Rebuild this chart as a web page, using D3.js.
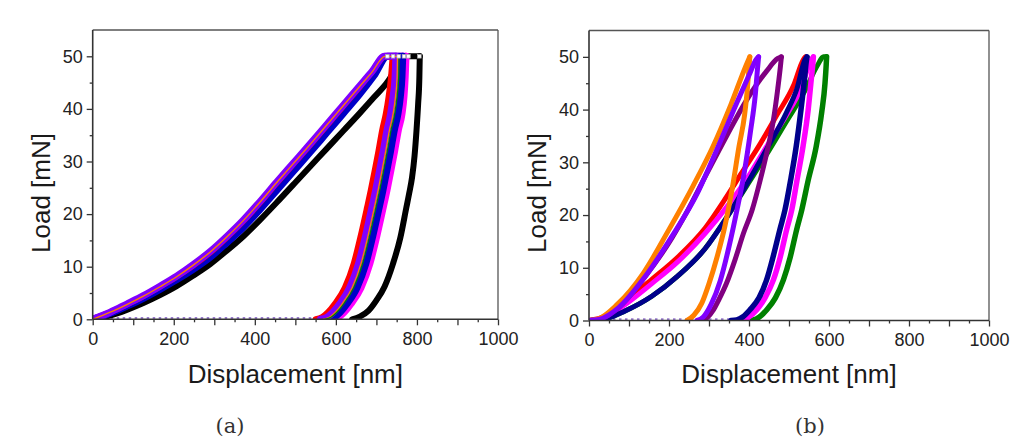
<!DOCTYPE html>
<html><head><meta charset="utf-8">
<script src="https://cdn.jsdelivr.net/npm/d3@7"></script>
<style>body{margin:0;background:#fff;} svg{display:block;}</style>
</head><body><svg id="c" width="1030" height="447"></svg>
<script>
// ---------- shared axis values ----------
const xDomain = [0, 1000];
const yDomain = [0, 55];
const xMajorTicks = [0, 100, 200, 300, 400, 500, 600, 700, 800, 900, 1000];
const xMinorTicks = [50, 150, 250, 350, 450, 550, 650, 750, 850, 950];
const xLabelTicks = [0, 200, 400, 600, 800, 1000];
const yMajorTicks = [0, 10, 20, 30, 40, 50];
const yMinorTicks = [5, 15, 25, 35, 45];
const xTitle = "Displacement [nm]";
const yTitle = "Load [mN]";
const captions = ["(a)", "(b)"];

// ---------- panel (a) curves: [displacement nm, load mN] ----------
// loading (+ hold at 50 mN) and unloading (listed from the bottom up)
const aBlackLoad = [[0,0],[42,0.7],[84,1.8],[125,3.1],[166,4.6],[207,6.3],[248,8.3],[290,10.5],[330,13.0],[372,15.8],[413,18.9],[454,22.2],[495,25.6],[536,29.0],[577,32.4],[618,35.8],[659,39.2],[694,42.2],[729,45.3],[752,48.2],[775,50],[807,50]];
const aBlackUnload = [[640,0],[659,0.5],[680,1.6],[700,3.6],[720,6.2],[741,10.6],[759,15.5],[774,21.3],[781,24],[788,27],[794,31],[799,36],[803,41],[806,46],[807,50]];
const aMagentaLoad = [[0,0],[42,1.2],[84,2.6],[125,4.2],[166,6.0],[207,7.9],[248,10.0],[290,12.5],[330,15.3],[372,18.5],[413,22.0],[454,25.7],[495,29.3],[536,32.9],[577,36.6],[618,40.3],[659,44.0],[690,46.9],[722,50],[773,50]];
const aMagentaUnload = [[590,0],[606,0.4],[620,1.3],[638,3],[662,6],[684,10.6],[701,15.8],[717,21.3],[726,24.5],[735,28],[745,32],[754,35.9],[763,39],[768,42.3],[771,46],[773,50]];
const aBlueLoad = [[0,0],[42,1.1],[84,2.5],[125,4.0],[166,5.7],[207,7.5],[248,9.5],[290,11.8],[330,14.5],[372,17.5],[413,20.9],[454,24.5],[495,28.1],[536,31.7],[577,35.4],[618,39.1],[659,42.8],[694,46.3],[728,50],[765,50]];
const aBlueUnload = [[580,0],[596,0.4],[610,1.3],[628,3],[652,6],[674,10.6],[691,15.8],[707,21.3],[716,24.5],[725,28],[735,32],[744,35.9],[753,39],[759,42.3],[763,46],[765,50]];
const aRedLoad = [[0,0],[42,1.3],[84,2.8],[125,4.4],[166,6.2],[207,8.1],[248,10.2],[290,12.7],[330,15.5],[372,18.7],[413,22.2],[454,25.9],[495,29.5],[536,33.1],[577,36.8],[618,40.5],[659,44.2],[690,47.1],[722,50],[740,50]];
const aRedUnload = [[550,0],[566,0.4],[580,1.3],[598,3],[622,6],[644,10.6],[661,15.8],[677,21.3],[686,24.5],[695,28],[705,32],[714,35.9],[723,39],[730,42.3],[736,46],[740,50]];
const aVioletLoad = [[0,0],[42,1.3],[84,2.9],[125,4.5],[166,6.3],[207,8.2],[248,10.4],[290,12.9],[330,15.7],[372,18.9],[413,22.4],[454,26.1],[495,29.7],[536,33.3],[577,37.0],[618,40.7],[659,44.4],[690,47.2],[720,50],[748,50]];
const aVioletUnload = [[562,0],[578,0.4],[592,1.3],[610,3],[634,6],[656,10.6],[673,15.8],[689,21.3],[698,24.5],[707,28],[717,32],[726,35.9],[735,39],[741,42.3],[746,46],[748,50]];
const aOrangeLoad = [[0,0],[42,1.3],[84,2.8],[125,4.4],[166,6.2],[207,8.1],[248,10.3],[290,12.8],[330,15.6],[372,18.8],[413,22.3],[454,26.0],[495,29.6],[536,33.2],[577,36.9],[618,40.6],[659,44.3],[690,47.1],[721,50],[752,50]];
const aOrangeUnload = [[568,0],[584,0.4],[598,1.3],[616,3],[640,6],[662,10.6],[679,15.8],[695,21.3],[704,24.5],[713,28],[723,32],[732,35.9],[741,39],[747,42.3],[751,46],[752,50]];
const aGreenUnload = [[572,0],[588,0.4],[602,1.3],[620,3],[644,6],[666,10.6],[683,15.8],[699,21.3],[708,24.5],[717,28],[727,32],[736,35.9],[745,39],[751,42.3],[755,46],[756,50]];
const aHoldMarkers = [[727,50],[741,50],[755,50],[768,50],[779,50],[806,50]];

// ---------- panel (b) curves ----------
const bRedLoad = [[0,0],[40,0.8],[90,3.6],[157,7.8],[223,12.1],[290,17.5],[340,23.0],[380,27.8],[428,33.5],[470,39.0],[511,44.5],[536,49.5],[541,50]];
const bGreenLoad = [[0,0],[40,0.3],[90,1.8],[157,4.6],[223,8.5],[290,13.6],[344,19.5],[394,25.5],[444,31.5],[494,37.8],[540,43.6],[572,48.5],[586,50],[594,50]];
const bGreenUnload = [[400,0],[411,0.1],[425,0.6],[444,2],[466,4.3],[486,7.7],[503,12],[519,17.2],[532,21],[548,26.6],[568,33],[582,39.6],[590,45],[593,48.5],[594,50]];
const bMagentaLoad = [[0,0],[40,0.6],[90,3.0],[157,7.0],[223,11.2],[290,16.5],[344,21.5],[394,26.8],[444,33.0],[494,39.0],[530,44.0],[556,49.5],[561,50]];
const bMagentaUnload = [[370,0],[386,0.1],[400,0.7],[419,2],[440,4.3],[461,7.7],[478,12],[494,17.2],[507,21],[520,26.6],[535,33],[548,40],[556,46],[560,49],[561,50]];
const bBlueLoad = [[0,0],[40,0.3],[90,1.8],[157,4.6],[223,8.5],[290,13.6],[344,19.5],[394,25.8],[444,32.5],[494,39.5],[520,44.0],[540,49.5],[545,50]];
const bBlueUnload = [[355,0],[369,0.1],[385,0.7],[402,2],[425,4.3],[444,7.7],[460,12],[477,17.2],[490,21],[504,26.6],[518,33],[530,40],[539,46],[543,49],[545,50]];
const bPurpleLoad = [[0,0],[25,0.2],[75,2.5],[140,8.3],[207,15.6],[244,20.5],[294,27.8],[344,35.0],[394,41.8],[444,47.3],[472,49.7],[481,50]];
const bPurpleUnload = [[285,0],[295,0.5],[311,2],[325,4],[344,7.1],[365,11.5],[386,16.5],[408,21],[428,26.6],[445,32],[461,38],[472,44],[479,48.5],[481,50]];
const bOrangeLoad = [[0,0],[20,0.2],[70,3.0],[136,9.0],[198,17.0],[260,25.5],[310,33.0],[355,41.0],[395,48.8],[402,50]];
const bOrangeUnload = [[245,0],[262,1],[282,3.3],[300,7],[320,12],[340,18],[358,25],[375,33],[389,39],[396,44],[400,48],[402,50]];
const bVioletLoad = [[0,0],[25,0.2],[75,2.5],[140,8.3],[207,15.9],[270,24.0],[319,32.3],[369,41.2],[400,46.5],[418,49.5],[424,50]];
const bVioletUnload = [[270,0],[285,0.6],[305,3],[328,7.5],[350,14],[370,21],[388,28],[404,36],[416,43],[421,47.5],[424,50]];

// ---------- series styling (draw order) ----------
const seriesA = [
  {data: aBlackLoad, color: "#000000", w: 6},
  {data: aBlackUnload, color: "#000000", w: 6},
  {data: aMagentaLoad, color: "#ff00ff", w: 7},
  {data: aMagentaUnload, color: "#ff00ff", w: 7},
  {data: aBlueLoad, color: "#0000c8", w: 7},
  {data: aBlueUnload, color: "#0000c8", w: 7},
  {data: aRedLoad, color: "#ff0000", w: 6},
  {data: aRedUnload, color: "#ff0000", w: 6},
  {data: aVioletLoad, color: "#8000ff", w: 7},
  {data: aVioletUnload, color: "#8000ff", w: 7},
  {data: aOrangeLoad, color: "#ff8000", w: 1.3},
  {data: aOrangeUnload, color: "#ff8000", w: 1.3},
  {data: aGreenUnload, color: "#008000", w: 1.3}
];
const seriesB = [
  {data: bRedLoad, color: "#ff0000", w: 5},
  {data: bGreenLoad, color: "#008000", w: 5},
  {data: bGreenUnload, color: "#008000", w: 5.5},
  {data: bMagentaLoad, color: "#ff00ff", w: 5},
  {data: bMagentaUnload, color: "#ff00ff", w: 5.5},
  {data: bBlueLoad, color: "#00008c", w: 5},
  {data: bBlueUnload, color: "#00008c", w: 5.5},
  {data: bPurpleLoad, color: "#800080", w: 5},
  {data: bPurpleUnload, color: "#800080", w: 5},
  {data: bOrangeLoad, color: "#ff8000", w: 5},
  {data: bOrangeUnload, color: "#ff8000", w: 5},
  {data: bVioletLoad, color: "#8000ff", w: 5},
  {data: bVioletUnload, color: "#8000ff", w: 5}
];

const panels = [
  {left: 92.7, right: 498, top: 30, bottom: 319.3, series: seriesA, markers: aHoldMarkers, baseEnd: 570, caption: captions[0], capX: 230, id: "a"},
  {left: 589, right: 989, top: 30.5, bottom: 320.5, series: seriesB, markers: [], baseEnd: 360, caption: captions[1], capX: 810, id: "b"}
];

const svg = d3.select("#c");
const FONT = "'Liberation Sans', Arial, sans-serif";

panels.forEach(p => {
  const g = svg.append("g");
  const x = d3.scaleLinear().domain(xDomain).range([p.left, p.right]);
  const y = d3.scaleLinear().domain(yDomain).range([p.bottom, p.top]);

  g.append("clipPath").attr("id", "clip" + p.id)
    .append("rect").attr("x", p.left).attr("y", p.top).attr("width", p.right - p.left).attr("height", p.bottom - p.top);

  const plot = g.append("g").attr("clip-path", `url(#clip${p.id})`);

  // dotted near-zero tail
  plot.append("line")
    .attr("x1", x(0)).attr("x2", x(p.baseEnd))
    .attr("y1", y(0.25)).attr("y2", y(0.25))
    .attr("stroke", "#9a7cd0").attr("stroke-width", 2).attr("stroke-dasharray", "2.5,3.5");

  const line = d3.line().x(d => x(d[0])).y(d => y(d[1])).curve(d3.curveMonotoneX);
  p.series.forEach(s => {
    plot.append("path").attr("d", line(s.data))
      .attr("fill", "none").attr("stroke", s.color).attr("stroke-width", s.w)
      .attr("stroke-linejoin", "round").attr("stroke-linecap", "round");
  });

  plot.selectAll("rect.mk").data(p.markers).join("rect").attr("class", "mk")
    .attr("x", d => x(d[0]) - 1.8).attr("y", d => y(d[1]) - 1.8)
    .attr("width", 3.6).attr("height", 3.6)
    .attr("fill", "#fff").attr("stroke", "#aaa").attr("stroke-width", 0.7);

  // frame top/right
  g.append("line").attr("x1", p.left).attr("x2", p.right).attr("y1", p.top).attr("y2", p.top).attr("stroke", "#555").attr("stroke-width", 1.3);
  g.append("line").attr("x1", p.right).attr("x2", p.right).attr("y1", p.top).attr("y2", p.bottom).attr("stroke", "#555").attr("stroke-width", 1.3);

  // bottom axis
  const xMinor = g.append("g").attr("transform", `translate(0,${p.bottom})`)
    .call(d3.axisBottom(x).tickValues(xMinorTicks).tickSize(3).tickFormat(""));
  const xMajor = g.append("g").attr("transform", `translate(0,${p.bottom})`)
    .call(d3.axisBottom(x).tickValues(xMajorTicks).tickSize(6).tickPadding(6.5)
      .tickFormat(d => xLabelTicks.includes(d) ? d : ""));
  // left axis
  const yMinor = g.append("g").attr("transform", `translate(${p.left},0)`)
    .call(d3.axisLeft(y).tickValues(yMinorTicks).tickSize(3).tickFormat(""));
  const yMajor = g.append("g").attr("transform", `translate(${p.left},0)`)
    .call(d3.axisLeft(y).tickValues(yMajorTicks).tickSize(6).tickPadding(4));

  [xMinor, xMajor, yMinor, yMajor].forEach(a => {
    a.select(".domain").remove();
    a.selectAll(".tick line").attr("stroke", "#333").attr("stroke-width", 1.3);
    a.selectAll("text").attr("font-family", FONT).attr("font-size", 18).attr("fill", "#222");
  });

  // axis lines
  g.append("line").attr("x1", p.left).attr("x2", p.right).attr("y1", p.bottom).attr("y2", p.bottom).attr("stroke", "#333").attr("stroke-width", 1.6);
  g.append("line").attr("x1", p.left).attr("x2", p.left).attr("y1", p.top).attr("y2", p.bottom).attr("stroke", "#333").attr("stroke-width", 1.6);

  // titles
  g.append("text").attr("x", (p.left + p.right) / 2).attr("y", 383)
    .attr("text-anchor", "middle").attr("font-family", FONT).attr("font-size", 26).attr("fill", "#1a1a1a")
    .text(xTitle);
  g.append("text").attr("transform", `translate(${p.left - 43},193) rotate(-90)`)
    .attr("text-anchor", "middle").attr("font-family", FONT).attr("font-size", 26).attr("fill", "#1a1a1a")
    .text(yTitle);

  // caption
  g.append("text").attr("x", p.capX).attr("y", 433)
    .attr("text-anchor", "middle").attr("font-family", "'DejaVu Serif', serif").attr("font-size", 21).attr("fill", "#333")
    .text(p.caption);
});
</script></body></html>
